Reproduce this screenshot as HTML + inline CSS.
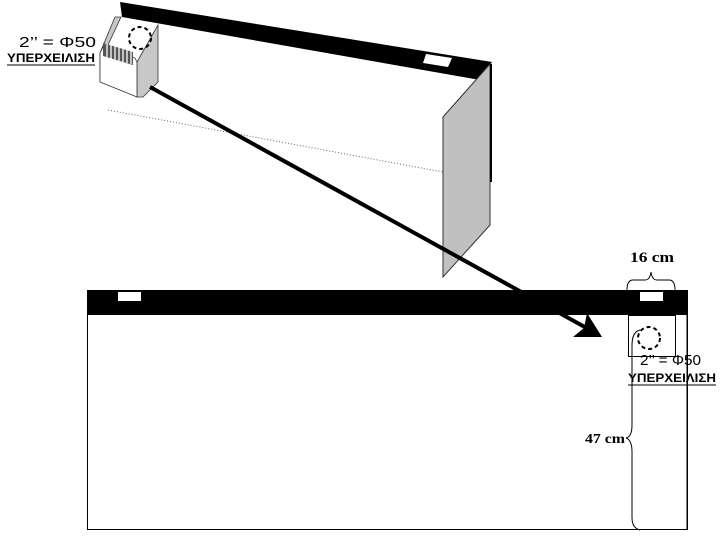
<!DOCTYPE html>
<html><head><meta charset="utf-8"><style>body{margin:0;background:#fff}svg{display:block}</style></head><body>
<svg width="725" height="542" viewBox="0 0 725 542" xmlns="http://www.w3.org/2000/svg" font-family="Liberation Sans, sans-serif">
<!-- top beam -->
<polygon points="120,2 492,62 480,80 122,17" fill="#000"/>
<polygon points="426,54 452,58 448,67 423,63" fill="#fff"/>
<!-- gray panel -->
<polygon points="443,117 490,64 490,225 443,277" fill="#c0c0c0" stroke="#333" stroke-width="1"/>
<line x1="491" y1="64" x2="491" y2="182" stroke="#000" stroke-width="2"/>
<!-- dotted line -->
<line x1="108" y1="110" x2="443" y2="172" stroke="#666" stroke-width="1" stroke-dasharray="1,2"/>
<!-- box -->
<polygon points="120,17 156,27 137,62 104,48" fill="#fff"/>
<polygon points="100,80 100,53 115,17 121,17 108,45" fill="#c8c8c8" stroke="#333" stroke-width="0.8"/>
<polygon points="137,97 143,97 158,82 158,25 137,62" fill="#c8c8c8" stroke="#333" stroke-width="0.8"/>
<polygon points="100,53 104,45 135,58 137,62 137,97 100,82" fill="#fff" stroke="#333" stroke-width="0.8"/>
<polygon points="103,43 133,52 133,65 103,56" fill="#555"/>
<g stroke="#fff" stroke-width="1.3">
<line x1="107" y1="44" x2="107" y2="58"/><line x1="111" y1="45" x2="111" y2="59"/><line x1="115" y1="46" x2="115" y2="60"/><line x1="119" y1="47" x2="119" y2="61"/><line x1="123" y1="48" x2="123" y2="62"/><line x1="127" y1="49" x2="127" y2="63"/><line x1="131" y1="50" x2="131" y2="64"/>
</g>
<circle cx="140" cy="38" r="11" fill="none" stroke="#000" stroke-width="2" stroke-dasharray="4,3"/>
<text x="19" y="47" font-size="15" textLength="77" lengthAdjust="spacingAndGlyphs">2’’ = Φ50</text>
<text x="7" y="62" font-size="12" font-weight="bold" textLength="88" lengthAdjust="spacingAndGlyphs">ΥΠΕΡΧΕΙΛΙΣΗ</text>
<line x1="7" y1="65" x2="95" y2="65" stroke="#000" stroke-width="1"/>
<!-- lower rect -->
<rect x="87.5" y="290.5" width="600" height="239" fill="#fff" stroke="#000" stroke-width="1"/>
<rect x="87" y="290" width="601" height="25" fill="#000"/>
<rect x="118" y="292" width="23" height="9" fill="#fff"/>
<rect x="640" y="292" width="23" height="9" fill="#fff"/>
<!-- arrow -->
<line x1="150" y1="87" x2="592" y2="331" stroke="#000" stroke-width="4"/>
<polygon points="602,337 573,337 584,328 587,313" fill="#000"/>
<!-- small box -->
<rect x="628.5" y="315.5" width="47" height="41" fill="none" stroke="#000" stroke-width="1"/>
<circle cx="649" cy="338" r="11" fill="none" stroke="#000" stroke-width="2" stroke-dasharray="4,3"/>
<!-- brace top -->
<path d="M627,290 Q627,280 633,280 L645,280 Q650,280 651,272 Q652,280 657,280 L669,280 Q675,280 675,290" fill="none" stroke="#000" stroke-width="1"/>
<text x="630" y="262" font-size="15" font-weight="bold" font-family="Liberation Serif, serif" textLength="44" lengthAdjust="spacingAndGlyphs">16 cm</text>
<text x="640" y="365" font-size="15" textLength="61" lengthAdjust="spacingAndGlyphs">2’’ = Φ50</text>
<text x="628" y="382" font-size="12" font-weight="bold" textLength="88" lengthAdjust="spacingAndGlyphs">ΥΠΕΡΧΕΙΛΙΣΗ</text>
<line x1="628" y1="385" x2="716" y2="385" stroke="#000" stroke-width="1"/>
<!-- vertical brace -->
<path d="M640,330 Q632,332 632,345 L632,425 Q632,437 626,438 Q632,440 632,452 L632,518 Q632,528 640,530" fill="none" stroke="#000" stroke-width="1"/>
<line x1="687" y1="300" x2="687" y2="530" stroke="#000" stroke-width="1"/>
<text x="585" y="443" font-size="14" font-weight="bold" font-family="Liberation Serif, serif" textLength="40" lengthAdjust="spacingAndGlyphs">47 cm</text>
</svg>
</body></html>
